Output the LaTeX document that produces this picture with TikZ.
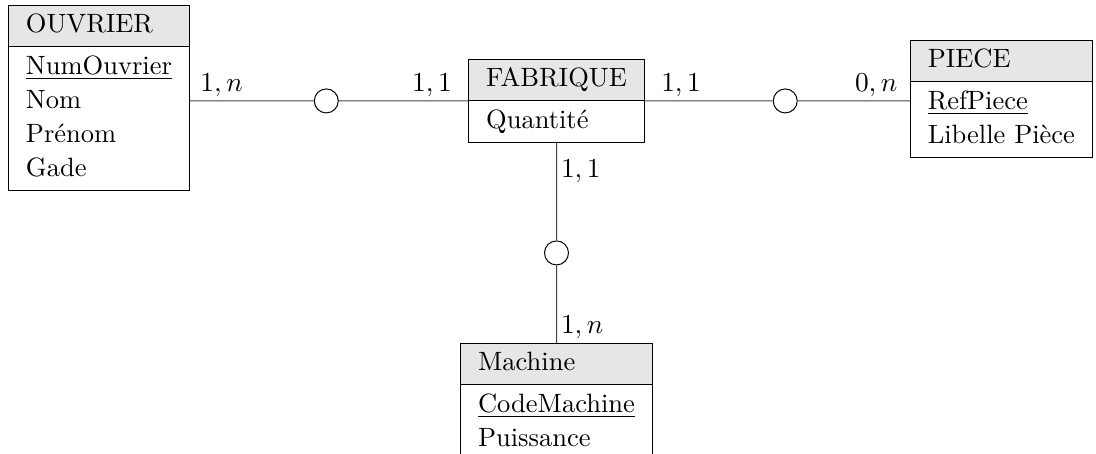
\documentclass[tikz,border=0pt]{standalone}
\usepackage{tikz}
\usetikzlibrary{shapes.multipart,positioning,calc}
\definecolor{headgray}{HTML}{E6E6E6}
\definecolor{linkgray}{HTML}{444444}
\newcommand{\cle}[1]{\underline{#1}}
\newcommand{\attrs}[1]{\begin{tabular}{@{}l@{}}#1\end{tabular}}
\renewcommand{\arraystretch}{1.06}

\begin{document}
\begin{tikzpicture}[
  x=0.4pt, y=-0.4pt,
  font=\fontsize{10.6pt}{12.8pt}\selectfont,
  entite/.style={rectangle split, rectangle split parts=2, draw, rectangle split part fill={headgray,white}, rectangle split part align={left,left}, inner xsep=7pt, inner ysep=1.3pt},
  rond/.style={circle, draw, fill=white, minimum size=9.6pt, inner sep=0pt},
  lien/.style={draw=linkgray},
  card/.style={inner sep=0pt}
]
\useasboundingbox (0,0) rectangle (1096,454);

\node[entite, anchor=north west] (ouvrier) at (8,5) {\attrs{OUVRIER}\nodepart{two}\attrs{\cle{NumOuvrier}\\Nom\\Prénom\\Gade}};
\node[entite, anchor=north] (fabrique) at (556.5,59) {\attrs{FABRIQUE}\nodepart{two}\attrs{Quantité}};
\node[entite, anchor=north east] (piece) at (1093,40) {\attrs{PIECE}\nodepart{two}\attrs{\cle{RefPiece}\\Libelle Pièce}};
\node[entite, anchor=north] (machine) at (fabrique.south |- 0,343) {\attrs{Machine}\nodepart{two}\attrs{\cle{CodeMachine}\\Puissance}};

% liens de l'association
\coordinate (g) at (ouvrier.east |- fabrique.one split west);
\coordinate (d) at (piece.west |- fabrique.one split east);
\node[rond] (r1) at ($(g)!0.49!(fabrique.one split west)$) {};
\node[rond] (r2) at ($(fabrique.one split east)!0.53!(d)$) {};
\node[rond] (r3) at ($(fabrique.south)!0.55!(machine.north)$) {};

\draw[lien] (g) -- (r1) -- (fabrique.one split west);
\draw[lien] (fabrique.one split east) -- (r2) -- (d);
\draw[lien] (fabrique.south) -- (r3) -- (machine.north);

\node[card, anchor=base west] (c1) at ([shift={(10,-9)}]g) {$1,n$};
\node[card, anchor=base east] (c2) at ([shift={(-16,-9)}]fabrique.one split west) {$1,1$};
\node[card, anchor=base west] (c3) at ([shift={(16,-9)}]fabrique.one split east) {$1,1$};
\node[card, anchor=base east] (c4) at ([shift={(-12,-9)}]d) {$0,n$};
\node[card, anchor=base west] (c5) at ([shift={(4,35)}]fabrique.south) {$1,1$};
\node[card, anchor=base west] (c6) at ([shift={(4,-10)}]machine.north) {$1,n$};
\end{tikzpicture}
\end{document}
